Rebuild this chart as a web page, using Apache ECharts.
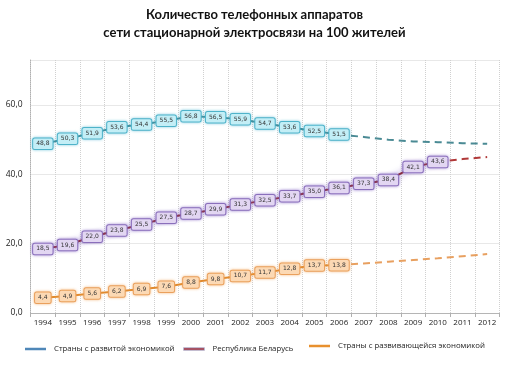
<!DOCTYPE html>
<html><head><meta charset="utf-8">
<script src="https://cdn.jsdelivr.net/npm/echarts@6/dist/echarts.min.js"></script>
<style>html,body{margin:0;padding:0;background:#fff}#c{width:509px;height:388px}</style>
</head><body><div id="c"></div>
<script>
const years = ['1994','1995','1996','1997','1998','1999','2000','2001','2002','2003','2004','2005','2006','2007','2008','2009','2010','2011','2012'];
const developed = [48.8,50.3,51.9,53.6,54.4,55.5,56.8,56.5,55.9,54.7,53.6,52.5,51.5,null,null,null,null,null,null];
const developedForecast = [null,null,null,null,null,null,null,null,null,null,null,null,51.5,50.8,50.0,49.5,49.3,49.0,48.8];
const belarus = [18.5,19.6,22.0,23.8,25.5,27.5,28.7,29.9,31.3,32.5,33.7,35.0,36.1,37.3,38.4,42.1,43.6,null,null];
const belarusForecast = [null,null,null,null,null,null,null,null,null,null,null,null,null,null,null,null,43.6,44.4,45.0];
const developing = [4.4,4.9,5.6,6.2,6.9,7.6,8.8,9.8,10.7,11.7,12.8,13.7,13.8,null,null,null,null,null,null];
const developingForecast = [null,null,null,null,null,null,null,null,null,null,null,null,13.8,14.3,14.8,15.3,15.8,16.4,17.0];
const yTicks = [0,20,40,60];
const names = ['Страны с развитой экономикой','Республика Беларусь','Страны с развивающейся экономикой'];

const fmt = v => v.toFixed(1).replace('.', ',');
function lbl(bg, border, shadow){
  return {show:true, position:'inside', formatter:p=>p.value==null?'':fmt(p.value),
    fontSize:6, color:'#333', fontFamily:'DejaVu Sans', backgroundColor:bg, borderColor:border, borderWidth:1,
    borderRadius:1.5, padding:[2.5,3,2,3], shadowColor:shadow, shadowBlur:3};
}
function leg(name, left, color, top, extra){
  return {left:left, top:top, padding:0, itemWidth:21, itemHeight:2.5, icon:'rect', selectedMode:false,
    textStyle:{fontSize:7.8, color:'#222', fontFamily:'Open Sans', padding:[0,0,0,3]},
    data:[{name:name, itemStyle:Object.assign({color:color}, extra||{})}]};
}
const chart = echarts.init(document.getElementById('c'), null, {renderer:'canvas'});
chart.setOption({
  animation:false,
  title:{text:'Количество телефонных аппаратов\nсети стационарной электросвязи на 100 жителей',
    left:'center', top:1, textStyle:{fontSize:13, fontWeight:'bold', fontFamily:'Lato', color:'#111', lineHeight:18}},
  grid:{left:30.5, right:9.5, top:60, bottom:75},
  legend:[leg(names[0], 25, '#4f87b8', 345),
          leg(names[1], 183, '#a03040', 345, {borderColor:'#b8b8d0', borderWidth:1}),
          leg(names[2], 309, '#e8902e', 342)],
  xAxis:{type:'category', data:years, boundaryGap:true,
    axisLine:{lineStyle:{color:'#b0b0b0', type:'dotted'}},
    axisTick:{show:true, length:4, lineStyle:{color:'#b0b0b0'}},
    axisLabel:{fontSize:8, color:'#222', fontFamily:'Open Sans', margin:6},
    splitLine:{show:true, lineStyle:{color:'#d0d0d0', type:'dotted'}}},
  yAxis:{type:'value', min:0, max:73, interval:20,
    axisLine:{show:true, lineStyle:{color:'#b0b0b0', type:'dotted'}},
    axisTick:{show:false},
    axisLabel:{fontSize:8.5, color:'#222', fontFamily:'Open Sans', showMaxLabel:false, formatter:v=>fmt(v), margin:8},
    splitLine:{show:true, lineStyle:{color:'#d0d0d0', type:'dotted'}}},
  series:[
    {name:names[0], type:'line', data:developed, symbol:'circle', symbolSize:1, showSymbol:true, lineStyle:{color:'#3f8a96', width:2}, itemStyle:{color:'#3f8a96'},
     label:lbl('#c3eef6','#4fb3c8','rgba(80,180,210,0.6)'), z:3},
    {name:'f0', type:'line', data:developedForecast, symbol:'none', lineStyle:{color:'#4a8a94', width:2, type:[7,5]}, z:2},
    {name:names[1], type:'line', data:belarus, symbol:'circle', symbolSize:1, showSymbol:true,
     lineStyle:{color:'#8c2a3a', width:2, shadowColor:'rgba(140,110,200,0.9)', shadowBlur:6}, itemStyle:{color:'#8c2a3a'},
     label:lbl('#e2d6f2','#8a70b8','rgba(140,110,200,0.7)'), z:3},
    {name:'f1', type:'line', data:belarusForecast, symbol:'none', lineStyle:{color:'#b03838', width:2, type:[7,5]}, z:2},
    {name:names[2], type:'line', data:developing, symbol:'circle', symbolSize:1, showSymbol:true, lineStyle:{color:'#e08a2e', width:2}, itemStyle:{color:'#e08a2e'},
     label:lbl('#fcd9b4','#e8a060','rgba(240,160,80,0.6)'), z:3},
    {name:'f2', type:'line', data:developingForecast, symbol:'none', lineStyle:{color:'#e8a060', width:2, type:[7,5]}, z:2}
  ]
});
</script></body></html>
